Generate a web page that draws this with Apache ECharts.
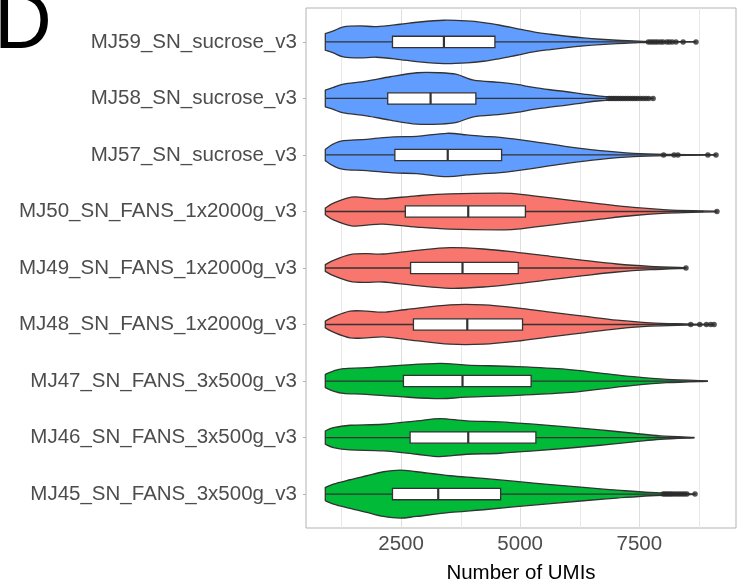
<!DOCTYPE html>
<html>
<head>
<meta charset="utf-8">
<script src="https://cdn.jsdelivr.net/npm/echarts@6/dist/echarts.min.js"></script>
<style>
  html, body { margin: 0; padding: 0; background: #fff; }
  #chart { width: 745px; height: 585px; }
</style>
</head>
<body>
<div id="chart"></div>
<script>
// Samples, listed from the bottom row to the top row
const samples = [
  'MJ45_SN_FANS_3x500g_v3',
  'MJ46_SN_FANS_3x500g_v3',
  'MJ47_SN_FANS_3x500g_v3',
  'MJ48_SN_FANS_1x2000g_v3',
  'MJ49_SN_FANS_1x2000g_v3',
  'MJ50_SN_FANS_1x2000g_v3',
  'MJ57_SN_sucrose_v3',
  'MJ58_SN_sucrose_v3',
  'MJ59_SN_sucrose_v3'
];
const protocol = [
  'FANS_3x500g', 'FANS_3x500g', 'FANS_3x500g',
  'FANS_1x2000g', 'FANS_1x2000g', 'FANS_1x2000g',
  'sucrose', 'sucrose', 'sucrose'
];

// Box-plot statistics (number of UMIs)
const whiskerLow  = [910, 910, 910, 910, 910, 910, 910, 910, 910];
const q1          = [2320, 2690, 2550, 2760, 2700, 2590, 2370, 2220, 2320];
const median      = [3280, 3910, 3790, 3890, 3790, 3910, 3480, 3120, 3400];
const q3          = [4590, 5330, 5230, 5050, 4960, 5110, 4610, 4070, 4470];
const whiskerHigh = [7950, 8650, 8930, 8450, 8300, 8850, 7960, 6820, 7650];

// Outlying cells per sample
const outliers = [
  [8000, 8040, 8080, 8120, 8160, 8200, 8250, 8300, 8350, 8400, 8450, 8500, 8670],
  [],
  [],
  [8580, 8770, 8910, 9000, 9070],
  [8480],
  [9130],
  [8010, 8230, 8310, 8940, 9110],
  [6860, 6910, 6960, 7010, 7060, 7110, 7160, 7210, 7260, 7310, 7360, 7410, 7460, 7520, 7580, 7640, 7700, 7790],
  [7690, 7740, 7790, 7840, 7890, 7950, 8000, 8080, 8130, 8190, 8270, 8420, 8690]
];

// Kernel density estimates: [UMIs, relative density]
const density = [
  [[910,20],[1080,30],[1430,43],[1780,55],[2130,67],[2480,72],[2830,67],[3530,55],[4230,47],[5280,33],[6330,20],[7030,12],[7730,5],[8670,0.6]],
  [[910,20],[1080,30],[1430,37],[2130,40],[2830,50],[3320,57],[3880,50],[4580,47],[5280,40],[5980,32],[6680,23],[7380,13],[7940,5],[8650,0.6]],
  [[910,20],[1080,30],[1290,37],[1780,40],[2480,47],[3320,53],[3880,48],[4930,43],[5980,35],[6680,24],[7380,13],[8080,5],[8930,0.6]],
  [[910,10],[1080,23],[1430,40],[1780,40],[2130,37],[2620,45],[3530,59],[4230,59],[4930,50],[5630,37],[6330,25],[7030,13],[7730,5],[8430,2],[9070,0.6]],
  [[910,10],[1080,23],[1430,40],[1780,43],[2130,42],[2830,53],[3530,61],[4230,57],[4930,47],[5630,35],[6330,23],[7030,12],[7730,5],[8480,0.8]],
  [[910,10],[1080,25],[1460,43],[1780,41],[2130,38],[2830,47],[3530,53],[4580,55],[4930,53],[5280,47],[5980,35],[6680,23],[7380,12],[8080,5],[8780,2],[9130,0.8]],
  [[910,17],[1080,33],[1290,43],[1780,47],[2340,54],[2830,56],[3460,65],[3880,60],[4230,56],[4580,53],[5280,40],[5980,25],[6680,13],[7380,5],[8080,2],[9110,0.6]],
  [[910,25],[1080,33],[1290,43],[1780,52],[2270,65],[2830,77],[3320,77],[3670,72],[4020,55],[4580,48],[4930,42],[5280,33],[5630,26],[5980,20],[6330,13],[6680,7],[7030,4],[7380,2],[7790,0.6]],
  [[910,25],[1080,33],[1290,45],[1640,48],[1990,46],[2480,53],[2830,59],[3390,65],[3880,63],[4230,58],[4580,50],[4930,40],[5280,30],[5630,23],[5980,17],[6330,12],[6680,8],[7030,5],[7380,3],[7730,1],[8690,0.6]]
];

const xTicks = [2500, 5000, 7500];
const xMinorTicks = [1250, 3750, 6250, 8750];

// ---- styling ----
const FONT = '"Liberation Sans", Arial, Helvetica, sans-serif';
const protocolColor = { sucrose: '#619CFF', FANS_1x2000g: '#F8766D', FANS_3x500g: '#00BA38' };
const OUTLINE = '#333333';
const OUTLINE_WIDTH = 1.3;
const DENSITY_TO_HALFWIDTH = 1 / 169.5; // category units per density unit
const BOX_HALF = 0.1;                   // category units

// Smooth outline (Catmull-Rom converted to cubic Beziers), mirrored about cy
function violinPath(pts, cy) {
  const n = pts.length;
  const segs = [];
  for (let k = 0; k < n - 1; k++) {
    const p0 = pts[Math.max(k - 1, 0)], p1 = pts[k], p2 = pts[k + 1], p3 = pts[Math.min(k + 2, n - 1)];
    const c1 = [p1[0] + (p2[0] - p0[0]) / 6, Math.max(0, p1[1] + (p2[1] - p0[1]) / 6)];
    const c2 = [p2[0] - (p3[0] - p1[0]) / 6, Math.max(0, p2[1] - (p3[1] - p1[1]) / 6)];
    segs.push([c1, c2, p2]);
  }
  let d = 'M' + pts[0][0] + ',' + (cy - pts[0][1]);
  segs.forEach(([c1, c2, p]) => {
    d += ' C' + c1[0] + ',' + (cy - c1[1]) + ' ' + c2[0] + ',' + (cy - c2[1]) + ' ' + p[0] + ',' + (cy - p[1]);
  });
  const last = pts[n - 1];
  d += ' L' + last[0] + ',' + (cy + last[1]);
  for (let k = segs.length - 1; k >= 0; k--) {
    const [c1, c2] = segs[k];
    const p = pts[k];
    d += ' C' + c2[0] + ',' + (cy + c2[1]) + ' ' + c1[0] + ',' + (cy + c1[1]) + ' ' + p[0] + ',' + (cy + p[1]);
  }
  return d + ' Z';
}

function renderViolin(params, api) {
  const i = api.value(0);
  const unit = api.size([0, 1])[1];
  const cy = api.coord([0, i])[1];
  const xOf = v => api.coord([v, i])[0];
  const pts = density[i].map(([v, dens]) => [xOf(v), dens * DENSITY_TO_HALFWIDTH * unit]);
  const bh = BOX_HALF * unit;
  const lineStyle = { stroke: OUTLINE, lineWidth: OUTLINE_WIDTH, fill: null };
  return {
    type: 'group',
    children: [
      {
        type: 'path',
        shape: { pathData: violinPath(pts, cy) },
        style: { fill: protocolColor[protocol[i]], stroke: OUTLINE, lineWidth: OUTLINE_WIDTH, lineJoin: 'round' }
      },
      { type: 'line', shape: { x1: xOf(whiskerLow[i]), y1: cy, x2: xOf(q1[i]), y2: cy }, style: lineStyle },
      { type: 'line', shape: { x1: xOf(q3[i]), y1: cy, x2: xOf(whiskerHigh[i]), y2: cy }, style: lineStyle },
      {
        type: 'rect',
        shape: { x: xOf(q1[i]), y: cy - bh, width: xOf(q3[i]) - xOf(q1[i]), height: 2 * bh },
        style: { fill: '#ffffff', stroke: OUTLINE, lineWidth: OUTLINE_WIDTH }
      },
      { type: 'line', shape: { x1: xOf(median[i]), y1: cy - bh, x2: xOf(median[i]), y2: cy + bh },
        style: { stroke: OUTLINE, lineWidth: 2.2 } }
    ]
  };
}

function renderGridLine(params, api) {
  const v = api.value(0);
  const major = api.value(1) === 1;
  const x = Math.round(api.coord([v, 0])[0]) + 0.5;
  const cs = params.coordSys;
  return {
    type: 'line',
    shape: { x1: x, y1: cs.y, x2: x, y2: cs.y + cs.height },
    style: { stroke: major ? '#dedede' : '#e8e8e8', lineWidth: 1 }
  };
}

const outlierPoints = [];
outliers.forEach((list, i) => list.forEach(v => outlierPoints.push([v, i])));

const chart = echarts.init(document.getElementById('chart'), null, { renderer: 'canvas' });
chart.setOption({
  animation: false,
  backgroundColor: '#ffffff',
  textStyle: { fontFamily: FONT },
  grid: {
    left: 306, right: 9, top: 8, bottom: 57,
    containLabel: false,
    outerBoundsMode: 'none',
    show: true, borderColor: '#b3b3b3', borderWidth: 1, backgroundColor: '#ffffff'
  },
  xAxis: {
    type: 'value',
    min: 505, max: 9530,
    splitLine: { show: false },
    axisLine: { show: false },
    axisTick: { show: true, customValues: xTicks, length: 4, lineStyle: { color: '#b3b3b3' } },
    axisLabel: {
      customValues: xTicks, formatter: v => String(v),
      fontSize: 20.5, color: '#4d4d4d', margin: 6, fontFamily: FONT
    },
    name: 'Number of UMIs',
    nameLocation: 'middle',
    nameGap: 35,
    nameTextStyle: { fontSize: 20.5, color: '#000000', fontFamily: FONT }
  },
  yAxis: {
    type: 'value',
    min: -0.6, max: 8.6,
    splitLine: { show: false },
    axisLine: { show: false },
    axisTick: { show: true, customValues: samples.map((s, i) => i), length: 3, lineStyle: { color: '#b3b3b3' } },
    axisLabel: {
      customValues: samples.map((s, i) => i),
      formatter: v => samples[Math.round(v)],
      fontSize: 20.5, color: '#4d4d4d', margin: 9, fontFamily: FONT
    }
  },
  graphic: [{
    type: 'text', x: -6, y: 26,
    style: { text: 'D', font: '80px ' + FONT, fill: '#000000', align: 'left', verticalAlign: 'middle' }
  }],
  series: [
    {
      type: 'custom', name: 'grid', renderItem: renderGridLine, silent: true, z: 1,
      data: xMinorTicks.map(v => [v, 0]).concat(xTicks.map(v => [v, 1]))
    },
    {
      type: 'custom', name: 'violins', renderItem: renderViolin, z: 2,
      data: samples.map((s, i) => [i])
    },
    {
      type: 'scatter', name: 'outliers', z: 3,
      symbol: 'circle', symbolSize: 5.5,
      itemStyle: { color: '#2b2b2b', borderWidth: 0 },
      data: outlierPoints
    }
  ]
});
</script>
</body>
</html>
